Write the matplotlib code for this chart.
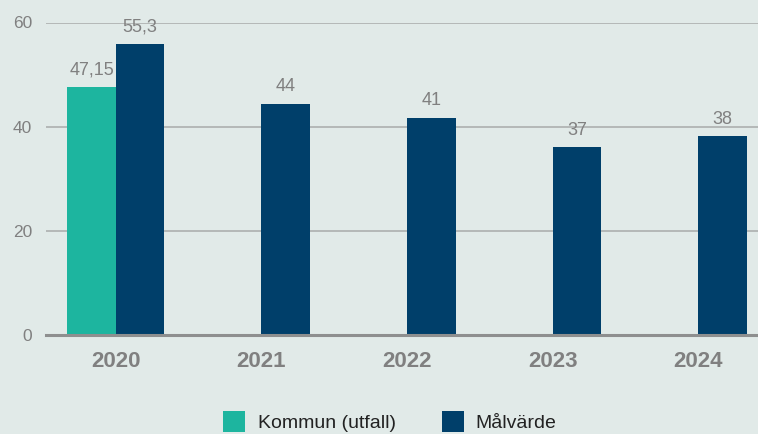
import matplotlib
matplotlib.use("Agg")
import matplotlib.pyplot as plt
import numpy as np
from matplotlib.patches import Patch

plt.rcParams['font.family'] = ['Liberation Sans', 'DejaVu Sans']

years = ["2020", "2021", "2022", "2023", "2024"]
kommun = [47.6, None, None, None, None]
kommun_labels = ["47,15", "", "", "", ""]
malvarde = [55.9, 44.4, 41.7, 36.1, 38.2]
malvarde_labels = ["55,3", "44", "41", "37", "38"]
yticks = [0, 20, 40, 60]

bg = "#E1EAE8"
teal = "#1DB59F"
navy = "#003F6A"
gray_text = "#808080"

fig = plt.figure(figsize=(7.58, 4.34), dpi=100, facecolor=bg)
ax = fig.add_axes([46/758, 1-334.7/434, 1-46/758, (334.7-22.5)/434])
ax.set_facecolor(bg)

x = np.arange(len(years))
w = 1/3
for i in range(len(years)):
    if kommun[i] is not None:
        ax.bar(x[i] - w/2, kommun[i], width=w, color=teal, zorder=3)
        ax.annotate(kommun_labels[i], (x[i] - w/2, kommun[i]), xytext=(0, 6),
                    textcoords='offset points', ha='center', va='bottom',
                    fontsize=13, color=gray_text)
    ax.bar(x[i] + w/2, malvarde[i], width=w, color=navy, zorder=3)
    ax.annotate(malvarde_labels[i], (x[i] + w/2, malvarde[i]), xytext=(0, 6),
                textcoords='offset points', ha='center', va='bottom',
                fontsize=13, color=gray_text)

ax.set_xlim(-0.48, 4.41)
ax.set_ylim(0, 60)
ax.set_yticks(yticks)
ax.set_yticklabels([str(t) for t in yticks], fontsize=12.5, color=gray_text)
ax.set_xticks(x)
ax.set_xticklabels(years, fontsize=16, fontweight='bold', color=gray_text,
                   family=['Liberation Sans Narrow', 'Liberation Sans', 'DejaVu Sans'])
ax.tick_params(axis='y', length=0, pad=10)
ax.tick_params(axis='x', length=0, pad=12)
ax.grid(axis='y', color='#A8ABAA', linewidth=1.1, zorder=0)
for s in ['top', 'right', 'left']:
    ax.spines[s].set_visible(False)
ax.spines['bottom'].set_color('#8E8F8F')
ax.spines['bottom'].set_linewidth(2.2)
ax.spines['bottom'].set_zorder(4)

handles = [Patch(facecolor=teal, label="Kommun (utfall)"),
           Patch(facecolor=navy, label="Målvärde")]
leg = fig.legend(handles=handles, loc='center', bbox_to_anchor=(390/758, 0.028),
                 ncol=2, frameon=False, fontsize=14, handlelength=1.13,
                 handleheight=1.25, handletextpad=0.62, columnspacing=2.37)
for t in leg.get_texts():
    t.set_color('#222222')

fig.savefig("out.png", dpi=100, facecolor=bg)
